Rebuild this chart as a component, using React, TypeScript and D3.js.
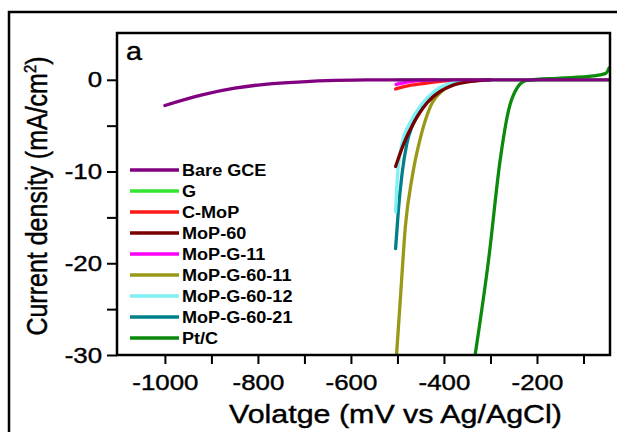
import React, { useRef, useEffect } from 'react';
import * as d3 from 'd3';

// axis ticks
const xMajor = [-1000, -800, -600, -400, -200];
const xMinor = [-900, -700, -500, -300, -100];
const yMajor = [0, -10, -20, -30];
const yMinor = [-5, -15, -25];

// legend order
const names = ['Bare GCE', 'G', 'C-MoP', 'MoP-60', 'MoP-G-11', 'MoP-G-60-11', 'MoP-G-60-12', 'MoP-G-60-21', 'Pt/C'];
const colors = ['#800080', '#33e633', '#ff1a1a', '#780000', '#ff00ff', '#999918', '#80f0f5', '#00808a', '#0b8a0b'];

// polarisation curves, voltage (mV) and current density (mA/cm2)
const bareV = [-1000, -920, -850, -780, -705, -635, -565, -43];
const bareJ = [-2.8, -1.65, -0.92, -0.47, -0.22, -0.07, 0, 0];
const gV = [-500, -43];
const gJ = [0, 0];
const cmopV = [-504, -490, -465, -430, -380, -300];
const cmopJ = [-1.0, -0.8, -0.55, -0.3, -0.05, 0];
const mop60V = [-504, -486, -465, -436, -408, -379, -343, -300];
const mop60J = [-9.45, -6.9, -4.7, -2.5, -1.27, -0.55, -0.18, 0];
const mopg11V = [-503, -480, -450, -420];
const mopg11J = [-0.5, -0.25, -0.05, 0];
const mopg6011V = [-502, -493, -483, -468, -450, -429, -401, -372, -337, -300];
const mopg6011J = [-30, -23.3, -16, -10.5, -6.2, -2.9, -1.1, -0.36, -0.07, 0];
const mopg6012V = [-504, -500, -490, -472, -450, -422, -393, -358, -300];
const mopg6012J = [-14.4, -10.5, -6.9, -4.6, -2.8, -1.3, -0.5, -0.15, 0];
const mopg6021V = [-504, -498, -490, -480, -468, -450, -422, -393, -358, -300];
const mopg6021J = [-18.4, -14.2, -10.2, -7.0, -5.0, -3.3, -1.45, -0.55, -0.18, 0];
const ptcV = [-333, -304, -279, -261, -243, -222, -150, -79, -52, -45];
const ptcJ = [-30, -19.6, -8.7, -3.3, -0.9, -0.07, 0.18, 0.43, 0.7, 1.3];

const seriesV = [bareV, gV, cmopV, mop60V, mopg11V, mopg6011V, mopg6012V, mopg6021V, ptcV];
const seriesJ = [bareJ, gJ, cmopJ, mop60J, mopg11J, mopg6011J, mopg6012J, mopg6021J, ptcJ];
// drawing order (last on top)
const drawOrder = [1, 2, 4, 5, 7, 6, 3, 8, 0];

const W = 617, H = 432;
const left = 117, right = 610, top = 33, bottom = 355;
const font = 'Liberation Sans, Arial, Helvetica, sans-serif';

export default function App() {
  const svgRef = useRef(null);

  useEffect(() => {
    const svg = d3.select(svgRef.current);
    svg.selectAll('*').remove();

    const x = d3.scaleLinear().domain([-1103, -43]).range([left, right]);
    const y = d3.scaleLinear().domain([-30, 5.1]).range([bottom, top]);

    // outer frame
    svg.append('rect').attr('x', 9).attr('y', 12).attr('width', 700).attr('height', 600)
      .attr('fill', 'none').attr('stroke', '#000').attr('stroke-width', 2.5);

    svg.append('clipPath').attr('id', 'plotclip').append('rect')
      .attr('x', left).attr('y', top).attr('width', right - left).attr('height', bottom - top);

    const curves = svg.append('g').attr('clip-path', 'url(#plotclip)');
    drawOrder.forEach(k => {
      const pts = seriesV[k].map((v, i) => [x(v), y(seriesJ[k][i])] as [number, number]);
      curves.append('path')
        .attr('d', d3.line().curve(d3.curveMonotoneX)(pts))
        .attr('fill', 'none')
        .attr('stroke', colors[k])
        .attr('stroke-width', 3.3)
        .attr('stroke-linecap', 'round');
    });

    // axes
    const xAxis = svg.append('g').attr('transform', `translate(0,${bottom})`)
      .call(d3.axisBottom(x).tickValues(xMajor).tickSize(9).tickPadding(10).tickFormat(d => String(d)));
    svg.append('g').attr('transform', `translate(0,${bottom})`)
      .call(d3.axisBottom(x).tickValues(xMinor).tickSize(9).tickFormat(() => ''));
    const yAxis = svg.append('g').attr('transform', `translate(${left},0)`)
      .call(d3.axisLeft(y).tickValues(yMajor).tickSize(10).tickPadding(3).tickFormat(d => String(d)));
    svg.append('g').attr('transform', `translate(${left},0)`)
      .call(d3.axisLeft(y).tickValues(yMinor).tickSize(10).tickFormat(() => ''));

    svg.selectAll('.domain').remove();
    svg.selectAll('.tick line').attr('stroke', '#000').attr('stroke-width', 2);
    [xAxis, yAxis].forEach(a => a.selectAll('text')
      .attr('fill', '#000')
      .attr('stroke', '#000').attr('stroke-width', 0.4)
      .style('font-family', font)
      .style('font-size', '22.5px')
      .attr('transform', 'scale(1.15,1)'));

    // plot box
    svg.append('rect').attr('x', left).attr('y', top).attr('width', right - left).attr('height', bottom - top)
      .attr('fill', 'none').attr('stroke', '#000').attr('stroke-width', 2.5);

    // panel label
    svg.append('text').attr('transform', 'translate(126,60) scale(1.15,1)')
      .attr('stroke', '#000').attr('stroke-width', 0.4)
      .style('font-family', font).style('font-size', '25px').text('a');

    // axis titles
    svg.append('text').attr('transform', `translate(${(left + right) / 2 + 32},423) scale(1.17,1)`)
      .attr('text-anchor', 'middle').attr('stroke', '#000').attr('stroke-width', 0.4)
      .style('font-family', font).style('font-size', '26px')
      .text('Volatge (mV vs Ag/AgCl)');
    const yt = svg.append('text').attr('transform', 'translate(47,196) scale(1.15,1) rotate(-90)')
      .attr('text-anchor', 'middle').attr('stroke', '#000').attr('stroke-width', 0.4)
      .style('font-family', font).style('font-size', '25px');
    yt.append('tspan').text('Current density (mA/cm');
    yt.append('tspan').attr('dy', -10).style('font-size', '15px').text('2');
    yt.append('tspan').attr('dy', 10).text(')');

    // legend
    const leg = svg.append('g');
    names.forEach((n, i) => {
      const ly = 170 + i * 21;
      leg.append('line').attr('x1', 130).attr('x2', 179).attr('y1', ly).attr('y2', ly)
        .attr('stroke', colors[i]).attr('stroke-width', 3.5);
      leg.append('text').attr('transform', `translate(182,${ly + 6}) scale(1.13,1)`)
        .style('font-family', font).style('font-size', '16px').style('font-weight', 'bold')
        .text(n);
    });
  }, []);

  return (
    <svg ref={svgRef} width={W} height={H}
      style={{ position: 'absolute', left: 0, top: 0, background: '#fff' }} />
  );
}
